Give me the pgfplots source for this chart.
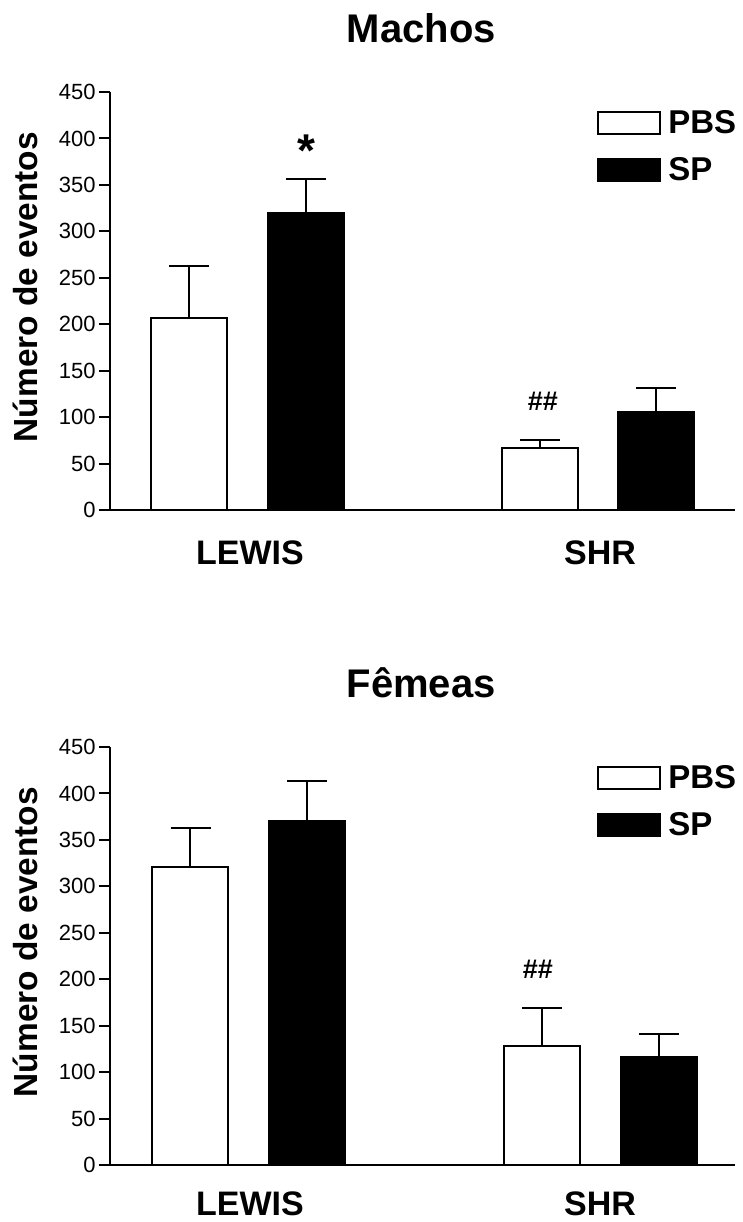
\documentclass[border=0pt]{standalone}
\usepackage{fontspec}
\setmainfont{Liberation Sans}
\usepackage{pgfplots}
\pgfplotsset{compat=1.18}

% 1 px of the reference = 0.5pt
\pgfplotsset{
  panel/.style={
    scale only axis,
    width=312.5pt, height=209pt,
    anchor=origin,
    xmin=0, xmax=625, ymin=0, ymax=450,
    axis lines=left,
    axis line style={-, line width=1pt},
    ytick={0,50,...,450},
    ytick style={line width=1pt, black},
    tick align=outside,
    major tick length=5.5pt,
    x tick style={draw=none},
    xtick={140,490},
    xticklabels={LEWIS,SHR},
    xticklabel style={font=\fontsize{17}{17}\selectfont\bfseries, inner sep=0pt, anchor=north, yshift=-9.5pt},
    yticklabel style={font=\fontsize{11}{11}\selectfont, inner sep=1.5pt},
    /pgf/number format/assume math mode=true,
    ylabel={Número de eventos},
    ylabel style={font=\fontsize{16.7}{16.7}\selectfont\bfseries, at={(axis description cs:-0.136,0.533)}, anchor=center},
    clip=false,
    ybar, bar width=76,
    legend style={draw=none, fill=none, at={(rel axis cs:0.779,0.957)}, anchor=north west,
      inner sep=0pt, row sep=11.5pt, column sep=3.5pt, font=\fontsize{16.5}{16.5}\selectfont\bfseries,
      nodes={inner sep=0pt, text depth=0pt}},
    legend cell align=left,
  },
  pbs/.style={bar shift=0pt, fill=white, draw=black, line width=1pt,
    legend image code/.code={\draw[fill=white, draw=black, line width=1pt] (0pt,-6pt) rectangle (31pt,5pt);},
    error bars/.cd, y dir=plus, y explicit,
    error bar style={line width=1pt, black},
    error mark options={black, line width=1pt, mark size=10pt, rotate=90}},
  sp/.style={bar shift=0pt, fill=black, draw=black, line width=1pt,
    legend image code/.code={\draw[fill=black, draw=black, line width=1pt] (0pt,-6pt) rectangle (31pt,5pt);},
    error bars/.cd, y dir=plus, y explicit,
    error bar style={line width=1pt, black},
    error mark options={black, line width=1pt, mark size=10pt, rotate=90}},
}

\begin{document}
\begin{tikzpicture}
\path[use as bounding box] (0,0) rectangle (371.5pt,-611pt);

% Machos
\begin{axis}[panel, at={(55pt,-255pt)}]
\addplot[pbs] coordinates {(79.5,207) +- (0,56) (430,67) +- (0,8)};
\addplot[sp] coordinates {(196,320) +- (0,36) (545.5,106) +- (0,25)};
\legend{PBS,SP}
\node[font=\fontsize{20}{20}\selectfont\bfseries] at (rel axis cs:0.498,1) [yshift=32pt] {Machos};
\node[font=\fontsize{23}{23}\selectfont\bfseries, anchor=north, inner sep=0pt] at (axis cs:196,404) {*};
\node[font=\fontsize{13.5}{13.5}\selectfont\bfseries, anchor=north, inner sep=0pt] at (axis cs:433,127) {\#\#};
\end{axis}

% Fêmeas
\begin{axis}[panel, at={(55pt,-582.5pt)}, xticklabel style={yshift=2pt}]
\addplot[pbs] coordinates {(80.5,321) +- (0,42) (432,128) +- (0,41)};
\addplot[sp] coordinates {(197,370) +- (0,43) (548.5,116) +- (0,25)};
\legend{PBS,SP}
\node[font=\fontsize{20}{20}\selectfont\bfseries] at (rel axis cs:0.498,1) [yshift=32pt] {Fêmeas};
\node[font=\fontsize{13.5}{13.5}\selectfont\bfseries, anchor=north, inner sep=0pt] at (axis cs:428,221) {\#\#};
\end{axis}
\end{tikzpicture}
\end{document}
